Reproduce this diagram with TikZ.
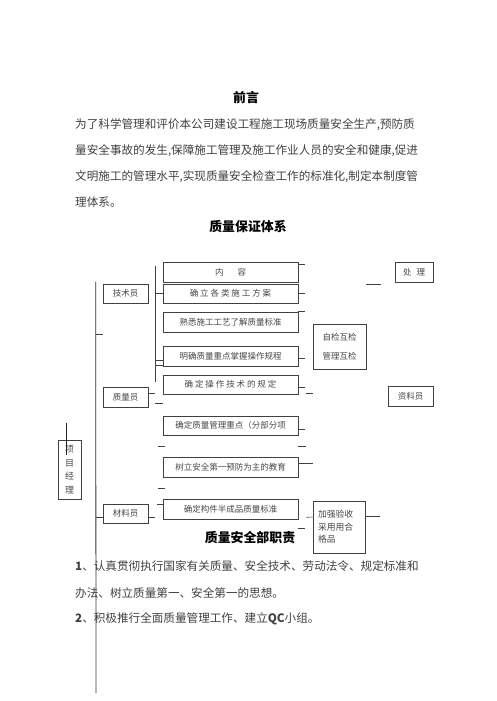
\documentclass[tikz,border=0pt]{standalone}
\usepackage{fontspec}
\setmainfont{Noto Sans CJK SC}
\usetikzlibrary{calc}

\begin{document}
\begin{tikzpicture}[x=1pt,y=-1pt,
kuang/.style={draw=black!75,line width=0.6pt,inner sep=0pt,text=black!72,font=\fontsize{8.5}{10}\selectfont},
neirong/.style={kuang,minimum width=135pt,minimum height=20pt},
renyuan/.style={kuang,minimum width=45pt,minimum height=20pt},
hangwen/.style={anchor=west,inner sep=0pt,text=black!75,font=\fontsize{11.6}{14}\selectfont},
biaoti/.style={inner sep=0pt,font=\fontsize{12.9}{15}\selectfont\bfseries},
duan/.style={black!75,line width=0.6pt}]
\useasboundingbox (0,0) rectangle (496,701);
%texto
\path (246,98) node(qy)[biaoti]{前言}
(75,125) node(h1)[hangwen]{为了科学管理和评价本公司建设工程施工现场质量安全生产,预防质}
(75,151) node(h2)[hangwen]{量安全事故的发生,保障施工管理及施工作业人员的安全和健康,促进}
(75,177) node(h3)[hangwen]{文明施工的管理水平,实现质量安全检查工作的标准化,制定本制度管}
(75,202) node(h4)[hangwen]{理体系。}
(248,227) node(tx)[biaoti]{质量保证体系}
(250,538) node(zz)[biaoti]{质量安全部职责}
(75,566) node(t1)[hangwen]{\textbf{1}、认真贯彻执行国家有关质量、安全技术、劳动法令、规定标准和}
(75,593) node(t2)[hangwen]{办法、树立质量第一、安全第一的思想。}
(75,619) node(t3)[hangwen]{\textbf{2}、积极推行全面质量管理工作、建立\textbf{QC}小组。};
\path (230.5,272) node(nr)[neirong]{内\hspace{14pt}容}
(230.5,293.5) node(fa)[neirong,minimum height=19pt]{确 立 各 类 施 工 方 案}
(230.5,322) node(gy)[neirong]{熟悉施工工艺了解质量标准}
(230.5,356) node(gc)[neirong]{明确质量重点掌握操作规程}
(230.5,384.5) node(gd)[neirong,minimum height=19pt]{确 定 操 作 技 术 的 规 定}
(230.5,425.5) node(zd)[neirong,minimum height=19pt]{确定质量管理重点（分部分项}
(230.5,467) node(jy)[neirong]{树立安全第一预防为主的教育}
(230.5,509) node(bz)[neirong]{确定构件半成品质量标准}
(125.5,293.5) node(jsy)[renyuan,minimum height=19pt]{技术员}
(125.5,397) node(zly)[renyuan]{质量员}
(125.5,513.5) node(cly)[renyuan,minimum height=19pt]{材料员}
(69.5,469.5) node(xm)[kuang,minimum width=23pt,minimum height=59pt,align=center,font=\fontsize{9}{13.5}\selectfont]{项\\目\\经\\理}
(339.5,346.5) node(hj)[kuang,minimum width=53pt,minimum height=45pt,align=center,font=\fontsize{8.5}{19}\selectfont]{自检互检\\管理互检}
(414,272) node(cl)[kuang,minimum width=38pt,minimum height=20pt]{处\hspace{5pt}理}
(410.5,396) node(zlg)[renyuan]{资料员}
(339,527) node(ys)[kuang,minimum width=52pt,minimum height=52pt,text width=42pt,align=left,font=\fontsize{8.8}{12.5}\selectfont]{加强验收\\采用用合\\格品};
\coordinate (dd) at (96,693);
\draw[black!80,line width=0.8pt]($(jsy.north west)+(-7,-2)$)--(dd);
\draw[duan]($(nr.north west)+(-7,4)$)--($(gd.south west)+(-7,-12)$);
\draw[black!85,line width=0.8pt]($(xm.north)+(-3.5,-17)$)--++(0,32);
\draw[duan](fa.west)--++(-7,0);
\draw[duan]($(gc.west)+(-7,4)$)--++(7,0);
\draw[duan]($(gc.west)+(-7,9)$)--++(7,0);
\draw[duan]($(jsy.south west)+(-7,31)$)--++(7,0);
\draw[duan]($(zly.east)+(0,-4)$)--++(7,0);
\draw[duan]($(zly.east)+(7,6)$)--++(8,0);
\draw[duan]($(zd.south west)+(-5,11)$)--++(7,0);
\draw[duan]($(jy.south west)+(-5,11)$)--++(7,0);
\draw[duan]($(bz.west)+(0,-5)$)--++(-6,0);
\draw[duan]($(cly.west)+(0,3.5)$)--++(-7,0);
\draw[duan]($(cly.east)+(0,3.5)$)--++(7,0);
\draw[duan]($(nr.north east)+(0,3)$)--++(7,0);
\draw[duan](fa.east)--++(7,0);
\draw[duan](gy.north east)--++(7,0);
\draw[duan]($(gc.east)+(0,2)$)--++(7,0);
\draw[duan]($(gd.east)+(0,2.5)$)--++(7,0);
\draw[duan]($(gd.south east)+(8,-1)$)--++(7,0);
\draw[duan]($(zd.east)+(0,3.5)$)--++(7,0);
\draw[duan]($(zd.south east)+(0,11)$)--++(8,0);
\draw[duan]($(jy.east)+(0,-4)$)--++(15,0);
\draw[duan]($(bz.south east)+(8,-2)$)--($(ys.west)+(0,-10)$);
\draw[duan]($(bz.south east)+(0,9)$)--++(7,0);
\draw[duan]($(cl.south west)+(-29,2)$)--++(15,0);
\draw[duan]($(ys.east)+(0,-11)$)--++(15,0);
\end{tikzpicture}
\end{document}
